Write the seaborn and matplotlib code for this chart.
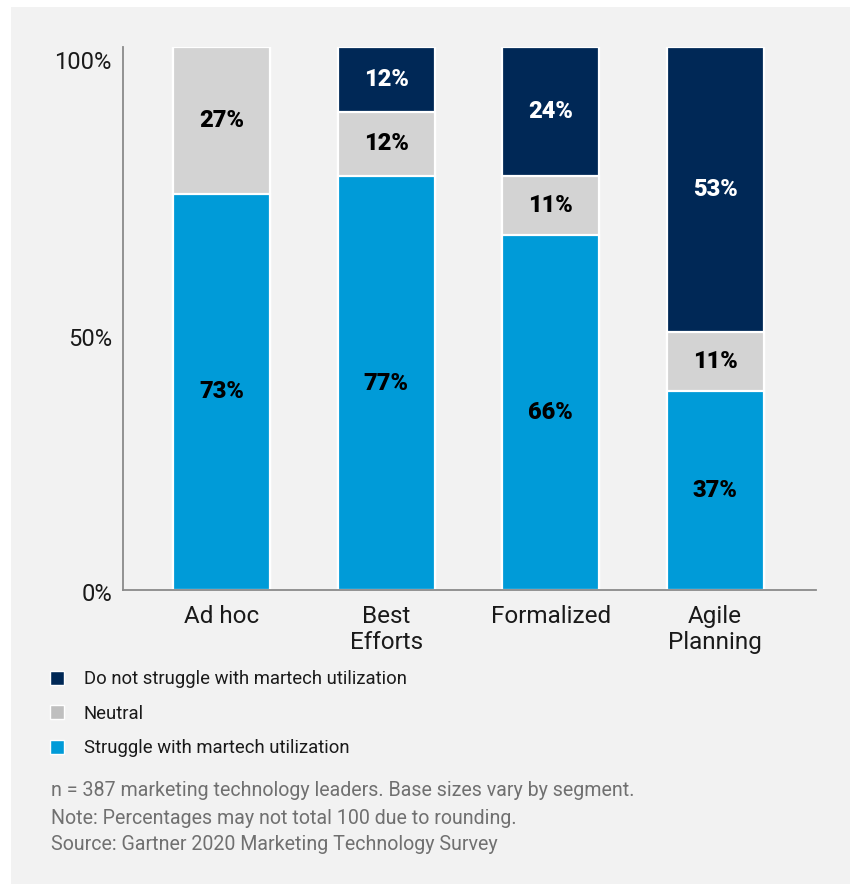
import numpy as np
import pandas as pd
import matplotlib
matplotlib.use("Agg")
import matplotlib.pyplot as plt
import matplotlib.transforms as mtransforms
from matplotlib.patches import Patch, Rectangle
import seaborn as sns

# ---- data -------------------------------------------------------------
segments = ["Ad hoc", "Best\nEfforts", "Formalized", "Agile\nPlanning"]
struggle = [73, 77, 66, 37]
neutral = [27, 12, 11, 11]
no_struggle = [0, 12, 24, 53]

series_names = [
    "Do not struggle with martech utilization",
    "Neutral",
    "Struggle with martech utilization",
]
y_ticks = [0, 50, 100]
y_tick_labels = ["0%", "50%", "100%"]
footnotes = [
    "n = 387 marketing technology leaders. Base sizes vary by segment.",
    "Note: Percentages may not total 100 due to rounding.",
    "Source: Gartner 2020 Marketing Technology Survey",
]

# ---- styling ----------------------------------------------------------
NAVY = "#002856"
GREY = "#d3d3d3"
GREY_LEGEND = "#bfbfbf"
BLUE = "#009bd8"
BG = "#f2f2f2"
TEXT = "#1a1a1a"

sns.set_theme(style="white")
plt.rcParams["font.family"] = ["Roboto", "DejaVu Sans"]

W, H = 856, 885
fig = plt.figure(figsize=(W / 100, H / 100), dpi=100, facecolor="white")
fig.patches.append(Rectangle((11 / W, 1 / H), (850 - 11) / W, (884 - 6 - 1) / H,
                             transform=fig.transFigure, facecolor=BG,
                             edgecolor="none", zorder=-10))

ax = fig.add_axes([123 / W, 1 - 590 / H, (816 - 123) / W, (590 - 47) / H])
ax.set_facecolor("none")

# rows are scaled to a common 100% stack; labels keep the reported values
s = np.array(struggle, float)
n = np.array(neutral, float)
d = np.array(no_struggle, float)
total = s + n + d
df = pd.DataFrame({
    "segment": segments,
    "top": (s + n + d) / total * 100,
    "mid": (s + n) / total * 100,
    "low": s / total * 100,
})

bar_w = 0.59
for col, colr in [("top", NAVY), ("mid", GREY), ("low", BLUE)]:
    sns.barplot(data=df, x="segment", y=col, color=colr, width=bar_w,
                edgecolor="white", linewidth=1.6, errorbar=None,
                saturation=1, ax=ax)

# value labels centred in each segment
for i in range(len(segments)):
    parts = [
        (0, df["low"][i], struggle[i], "black"),
        (df["low"][i], df["mid"][i], neutral[i], "black"),
        (df["mid"][i], df["top"][i], no_struggle[i], "white"),
    ]
    for lo, hi, val, tc in parts:
        if val <= 0:
            continue
        ax.text(i, (lo + hi) / 2, f"{val}%", ha="center", va="center",
                fontsize=17, fontweight="black", color=tc)

ax.set_xlim(-0.602, 3.614)
ax.set_ylim(0, 100)
ax.set_xlabel("")
ax.set_ylabel("")
ax.set_yticks(y_ticks)
ax.set_yticklabels(y_tick_labels)
ax.tick_params(axis="both", length=0, labelsize=17, colors=TEXT)
ax.tick_params(axis="x", pad=11, labelsize=17.5)
ax.tick_params(axis="y", pad=8)
for lbl in ax.get_xticklabels():
    lbl.set_linespacing(1.15)

# nudge the y labels down a little
shifts = {"0%": -2, "50%": -18, "100%": -13}
for lbl in ax.get_yticklabels():
    dy = shifts.get(lbl.get_text(), 0)
    lbl.set_transform(lbl.get_transform() +
                      mtransforms.ScaledTranslation(0, dy / 100, fig.dpi_scale_trans))

sns.despine(ax=ax, top=True, right=True)
for side in ("left", "bottom"):
    ax.spines[side].set_color("#8a8a8a")
    ax.spines[side].set_linewidth(1.3)

# legend
handles = [Patch(facecolor=NAVY), Patch(facecolor=GREY_LEGEND), Patch(facecolor=BLUE)]
fig.legend(handles, series_names, loc="upper left",
           bbox_to_anchor=(50 / W, 1 - 670 / H), frameon=False,
           fontsize=13.3, handlelength=0.78, handleheight=0.78,
           handletextpad=1.05, labelspacing=0.9, borderpad=0,
           borderaxespad=0, labelcolor=TEXT)

# footnotes
for k, line in enumerate(footnotes):
    fig.text(51 / W, 1 - (791 + 27 * k) / H, line, ha="left", va="center",
             fontsize=14.1, color="#707070")

fig.savefig("out.png", dpi=100, facecolor="white")
